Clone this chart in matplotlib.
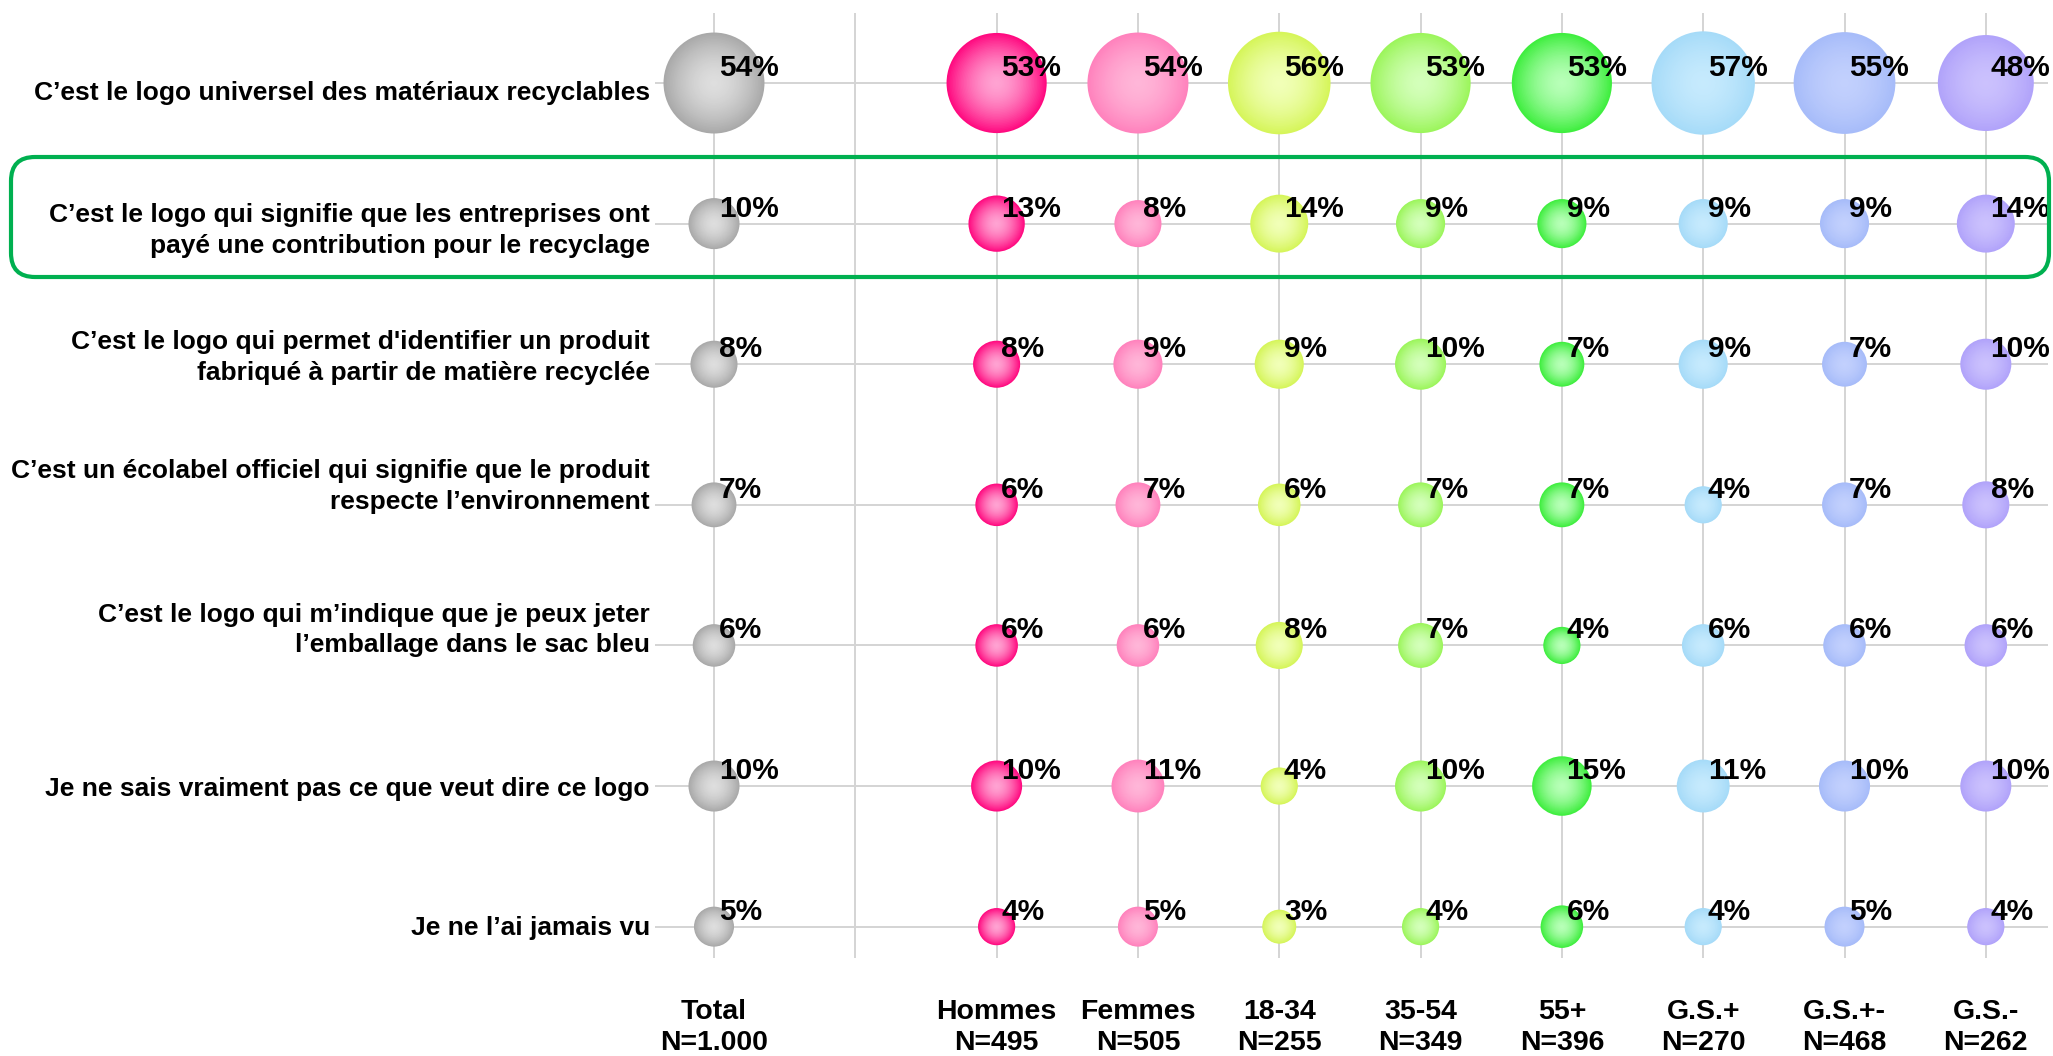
import numpy as np
import matplotlib
matplotlib.use('Agg')
import matplotlib.pyplot as plt
from matplotlib.colors import to_rgb
from matplotlib.patches import FancyBboxPatch
from matplotlib.transforms import IdentityTransform

plt.rcParams['font.family'] = ['Liberation Sans', 'DejaVu Sans']
plt.rcParams['font.weight'] = 'bold'

# answers (rows, top to bottom)
answers = [
    "C’est le logo universel des matériaux recyclables",
    "C’est le logo qui signifie que les entreprises ont\npayé une contribution pour le recyclage",
    "C’est le logo qui permet d'identifier un produit\nfabriqué à partir de matière recyclée",
    "C’est un écolabel officiel qui signifie que le produit\nrespecte l’environnement",
    "C’est le logo qui m’indique que je peux jeter\nl’emballage dans le sac bleu",
    "Je ne sais vraiment pas ce que veut dire ce logo",
    "Je ne l’ai jamais vu",
]

# groups (columns)
groups = ['Total', 'Hommes', 'Femmes', '18-34', '35-54', '55+', 'G.S.+', 'G.S.+-', 'G.S.-']
sample_sizes = ['N=1.000', 'N=495', 'N=505', 'N=255', 'N=349', 'N=396', 'N=270', 'N=468', 'N=262']

# % per group, one value per answer
total = [54, 10, 8, 7, 6, 10, 5]
hommes = [53, 13, 8, 6, 6, 10, 4]
femmes = [54, 8, 9, 7, 6, 11, 5]
age_18_34 = [56, 14, 9, 6, 8, 4, 3]
age_35_54 = [53, 9, 10, 7, 7, 10, 4]
age_55 = [53, 9, 7, 7, 4, 15, 6]
gs_plus = [57, 9, 9, 4, 6, 11, 4]
gs_mid = [55, 9, 7, 7, 6, 10, 5]
gs_minus = [48, 14, 10, 8, 6, 10, 4]
series = [total, hommes, femmes, age_18_34, age_35_54, age_55, gs_plus, gs_mid, gs_minus]

# bubble colours: (edge, centre highlight)
colors = [('#a9a9a9', '#dedede'), ('#ff0a80', '#ffa3d2'), ('#ff82bd', '#ffb6d8'),
          ('#d6f55a', '#f1ffb8'), ('#9cf55c', '#d4ffbb'), ('#3fee3f', '#b8ffb8'),
          ('#a6dbf8', '#c6eafd'), ('#a7bcf9', '#c2d0fd'), ('#b1a3fa', '#cbc1fd')]

# layout
col_x = [0, 2, 3, 4, 5, 6, 7, 8, 9]          # column 1 is an empty gap
label_y = [0.07, 1.05, 1.95, 2.87, 3.89, 5.02, 6.01]

fig = plt.figure(figsize=(20.53, 10.56), dpi=100)
ax = fig.add_axes([655 / 2053, 1 - 958 / 1056, (2048 - 655) / 2053, (958 - 13) / 1056])
ax.set_xlim(-0.4175, 9.44)
ax.set_ylim(6.223, -0.498)
ax.set_xticks(range(10))
ax.set_yticks(range(len(answers)))
ax.set_xticklabels([])
ax.set_yticklabels([])
ax.tick_params(length=0)
ax.grid(True, color='#d4d4d4', lw=1.4)
ax.set_axisbelow(True)
for s in ax.spines.values():
    s.set_visible(False)

rows = np.arange(len(answers))
px_to_pt = 72 / fig.dpi
n_layers = 32
for x, vals, (edge, centre) in zip(col_x, series, colors):
    vals = np.array(vals, dtype=float)
    diam = (13.3 + 11.93 * np.sqrt(vals)) * px_to_pt
    e, c = np.array(to_rgb(edge)), np.array(to_rgb(centre))
    for k in range(n_layers):
        frac = 1 - k / n_layers
        col = c + (e - c) * frac ** 1.7
        ax.scatter(np.full(len(vals), x), rows, s=(diam * frac) ** 2,
                   color=col, linewidths=0, zorder=3)
    for r, v in zip(rows, vals):
        ax.annotate(f'{v:.0f}%', (x, r), xytext=(3.4, 5), textcoords='offset points',
                    ha='left', va='baseline', fontsize=21.5, fontweight='bold', zorder=5)

for y, txt in zip(label_y, answers):
    ax.text(-0.453, y, txt, ha='right', va='center', multialignment='right',
            fontsize=19, fontweight='bold', linespacing=1.35, clip_on=False)

for x, g, n in zip(col_x, groups, sample_sizes):
    ax.text(x, 6.72, f'{g}\n{n}', ha='center', va='center', fontsize=20.5,
            fontweight='bold', linespacing=1.25, clip_on=False)

# highlighted answer
box = FancyBboxPatch((11, 1056 - 277), 2038, 120, boxstyle='round,pad=0,rounding_size=24',
                     transform=IdentityTransform(), fill=False, ec='#00b050', lw=3)
fig.add_artist(box)

fig.savefig('out.png', dpi=100, facecolor='white')
